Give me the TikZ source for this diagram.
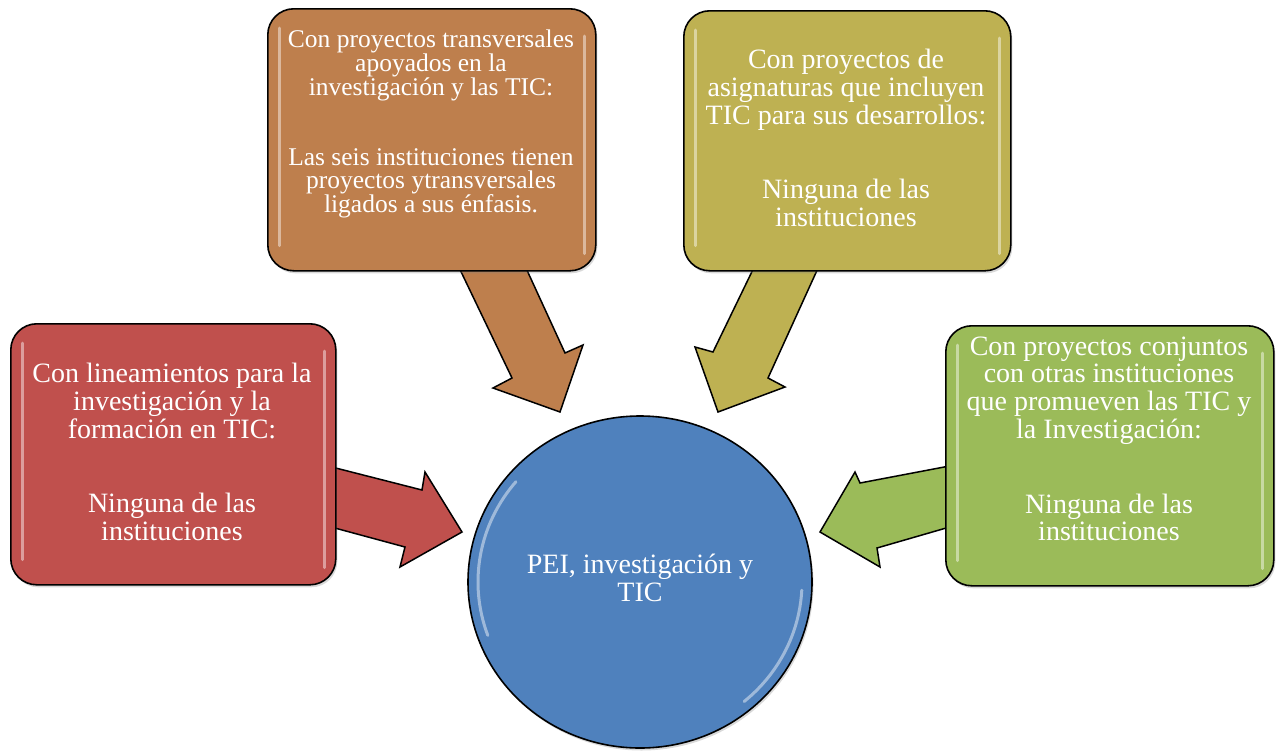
\documentclass[tikz,border=0pt]{standalone}
\usepackage{fontspec}
\setmainfont{Liberation Serif}
\usetikzlibrary{shadows,shapes.geometric}
\definecolor{cred}{HTML}{C0504D}
\definecolor{cbrown}{HTML}{BE7F4D}
\definecolor{colive}{HTML}{BEB152}
\definecolor{cgreen}{HTML}{9BBB59}
\definecolor{cblue}{HTML}{4F81BD}
\begin{document}
\begin{tikzpicture}[x=1pt,y=-1pt,
  box/.style={draw=black, line width=1.6pt, rounded corners=26pt, inner sep=0pt, anchor=north west,
    drop shadow={opacity=0.3, shadow xshift=1.5pt, shadow yshift=-2.5pt}},
  barrow/.style={draw=black, line width=1.5pt, line join=miter},
  hl/.style={draw=white, line width=3pt, line cap=round, opacity=0.45},
  tx/.style={text=white, anchor=base, inner sep=0pt, font=\fontsize{28}{28}\selectfont},
  txs/.style={text=white, anchor=base, inner sep=0pt, font=\fontsize{25.5}{24}\selectfont}]
\useasboundingbox (0,0) rectangle (1277,750);

% block arrows (drawn first, shafts go under the boxes)
\draw[barrow, fill=cred]   (320,464) -- (422,490) -- (425,472) -- (462,532) -- (400,567) -- (405,547) -- (320,524) -- cycle;
\draw[barrow, fill=cbrown] (453,255) -- (512,378) -- (493,388) -- (560,412) -- (583,345) -- (565,353) -- (520,255) -- cycle;
\draw[barrow, fill=colive] (760,255) -- (713,352) -- (695,347) -- (718,412) -- (785,387) -- (768,378) -- (824,255) -- cycle;
\draw[barrow, fill=cgreen] (960,464) -- (860,483) -- (855,472) -- (820,532) -- (880,567) -- (877,548) -- (960,524) -- cycle;

% boxes
\node[box, fill=cred,   minimum width=325pt, minimum height=261pt] (redbox)   at (10,323) {};
\node[box, fill=cbrown, minimum width=328pt, minimum height=262pt] (brownbox) at (267,8) {};
\node[box, fill=colive, minimum width=327pt, minimum height=260pt] (olivebox) at (683,10) {};
\node[box, fill=cgreen, minimum width=328pt, minimum height=260pt] (greenbox) at (945,325) {};

% gel highlights on the boxes
\foreach \b in {redbox,brownbox,olivebox,greenbox}{
  \draw[hl] ([xshift=12pt,yshift=-20pt]\b.north west) -- ([xshift=12pt,yshift=26pt]\b.south west);
  \draw[hl] ([xshift=-12pt,yshift=-28pt]\b.north east) -- ([xshift=-12pt,yshift=18pt]\b.south east);
}

% central circle
\node[ellipse, draw=black, line width=1.6pt, fill=cblue, minimum width=344pt, minimum height=332pt, inner sep=0pt,
  drop shadow={opacity=0.3, shadow xshift=1.5pt, shadow yshift=-2.5pt}] (circ) at (640,582) {};
\draw[hl] (circ.center) ++(-140:162 and 156) arc[start angle=-140, end angle=-200, x radius=162, y radius=156];
\draw[hl] (circ.center) ++(3:162 and 156) arc[start angle=3, end angle=50, x radius=162, y radius=156];

% texts: red box
\node[tx] (r1) at (172,382) {Con lineamientos para la};
\node[tx] (r2) at (172,410) {investigación y la};
\node[tx] (r3) at (172,438) {formación en TIC:};
\node[tx] (r4) at (172,512) {Ninguna de las};
\node[tx] (r5) at (172,540) {instituciones};

% texts: brown box
\node[txs] (b1) at (431,47) {Con proyectos transversales};
\node[txs] (b2) at (431,71) {apoyados en la};
\node[txs] (b3) at (431,95) {investigación y las TIC:};
\node[txs] (b4) at (431,165) {Las seis instituciones tienen};
\node[txs] (b5) at (431,188.5) {proyectos ytransversales};
\node[txs] (b6) at (431,212) {ligados a sus énfasis.};

% texts: olive box
\node[tx] (o1) at (846,68) {Con proyectos de};
\node[tx] (o2) at (846,96) {asignaturas que incluyen};
\node[tx] (o3) at (846,124) {TIC para sus desarrollos:};
\node[tx] (o4) at (846,198) {Ninguna de las};
\node[tx] (o5) at (846,226) {instituciones};

% texts: green box
\node[tx] (g1) at (1109,355) {Con proyectos conjuntos};
\node[tx] (g2) at (1109,382.5) {con otras instituciones};
\node[tx] (g3) at (1109,410) {que promueven las TIC y};
\node[tx] (g4) at (1109,438) {la Investigación:};
\node[tx] (g5) at (1109,513) {Ninguna de las};
\node[tx] (g6) at (1109,540) {instituciones};

% texts: circle
\node[tx] (c1) at (640,573) {PEI, investigación y};
\node[tx] (c2) at (640,601) {TIC};
\end{tikzpicture}
\end{document}
